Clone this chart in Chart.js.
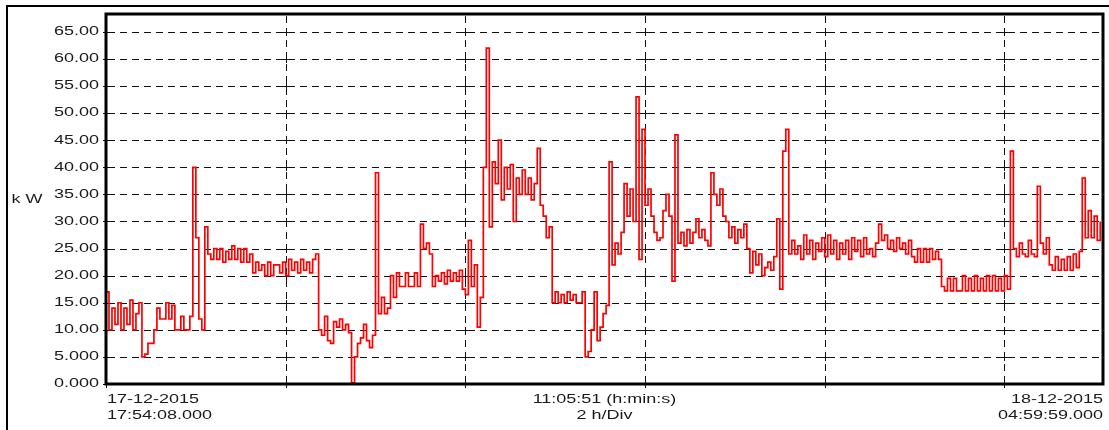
<!DOCTYPE html>
<html>
<head>
<meta charset="utf-8">
<script src="https://cdn.jsdelivr.net/npm/chart.js@4"></script>
<style>
  html, body { margin: 0; padding: 0; background: #fff; }
  #wrap { width: 1109px; height: 430px; }
</style>
</head>
<body>
<div id="wrap"><canvas id="chart" width="1109" height="430"></canvas></div>
<script>
// Data (one sample every 2 min)
const sampleSeconds = 120;
const spanSeconds = 39951; // 11:05:51
const xDivs = [0, 7200, 14400, 21600, 28800, 36000]; // 2 h/Div
const kw = [
  17, 10, 14, 11, 15, 10, 14, 11, 15.5, 10,
  13, 15, 5, 5.5, 7.5, 7.5, 10, 14, 12, 12,
  15, 12, 14.5, 10, 10, 12.5, 10, 10, 12.5, 40,
  27, 12, 10, 29, 24, 23, 25, 23, 25, 22.5,
  24.5, 23, 25.5, 23, 25, 22.5, 25, 22.5, 24, 20.5,
  22.5, 21, 22, 20, 22.5, 20, 22, 22, 20.5, 22.5,
  20, 23, 21, 22.5, 20.5, 23, 21, 22.5, 20.5, 23,
  24, 10, 9, 12.5, 8, 7.5, 11.5, 10.5, 12, 10,
  11, 9.5, 0.2, 5, 7.5, 8.5, 11, 8, 6.7, 9,
  39, 13, 16, 13, 14, 20, 16, 20.5, 18, 18,
  20.5, 18, 18, 20.5, 18, 29.5, 25, 26, 24, 18,
  20, 19, 20.5, 18.5, 21, 19, 20.5, 19, 21, 17.5,
  16.5, 26.5, 18, 22, 10.5, 16, 40, 62, 29, 41,
  37, 45, 34, 40, 36, 40.5, 30, 38, 35, 39.5,
  35, 38, 34, 37, 43.5, 33, 31, 27, 29, 15,
  17, 15, 16.5, 15, 17, 15.5, 16.5, 15, 15, 17,
  5, 6, 10, 17, 8, 10.5, 13, 14.5, 41, 22,
  26, 24, 28, 37, 31, 36, 30, 53, 23, 47,
  33, 36, 31, 28, 26.5, 27, 32, 35, 31, 19,
  46, 26, 28, 25.5, 28.5, 26, 28, 30.5, 27, 28.5,
  26.5, 25.5, 39, 35, 33, 36, 31, 30, 27, 29,
  26, 28.5, 27, 29.5, 25, 20.5, 24.5, 22, 24, 20,
  21.5, 22.5, 21, 23.5, 30.5, 17.5, 43, 47, 24, 26.5,
  24, 25.5, 23, 27.5, 24, 26.5, 23, 26, 24.5, 27,
  23.5, 27.5, 24, 26.5, 23, 26, 24, 26.5, 23, 27,
  24.5, 26.5, 23.5, 27, 24, 25, 23.5, 26, 29.5, 26.5,
  27.5, 25, 26.5, 24.5, 27, 25, 26, 24, 26.5, 23.5,
  22.5, 25, 22.5, 25, 22.5, 25, 23, 24.5, 23, 18,
  17.2, 19.5, 17.2, 19.5, 17.2, 17.2, 20, 17.2, 19.5, 17.2,
  20, 17.2, 19.5, 17.2, 20, 17.2, 20, 17.2, 19.5, 17.2,
  20, 17.5, 43, 25, 23.5, 26, 24, 23.5, 26.5, 24,
  23.5, 36.5, 26, 24, 27, 22, 21, 23.5, 21, 23,
  21, 23.5, 21, 24, 21.5, 24.5, 38, 27, 32, 27,
  31, 26.5, 30
];
const yTicks = [0, 5, 10, 15, 20, 25, 30, 35, 40, 45, 50, 55, 60, 65];
const unitLabel = "k W";
const startLabel = ["17-12-2015", "17:54:08.000"];
const midLabel = ["11:05:51 (h:min:s)", "2 h/Div"];
const endLabel = ["18-12-2015", "04:59:59.000"];

const FONT = '12px "Liberation Sans", Arial, sans-serif';
const STRETCH = 1.5;
const DASH = 7, GAP = 5;

function fmtKw(v) {
  return v.toPrecision(4);
}

// text in the original is horizontally stretched
function wideText(ctx, s, x, y, align) {
  ctx.save();
  ctx.translate(x, y);
  ctx.scale(STRETCH, 1);
  ctx.textAlign = align;
  ctx.fillText(s, 0, 0);
  ctx.restore();
}

// dashes as separate rects, setLineDash is not reliable here
function dashH(ctx, x1, x2, y) {
  for (let x = x1; x < x2; x += DASH + GAP) {
    ctx.fillRect(x, y, Math.min(DASH, x2 - x), 1);
  }
}
function dashV(ctx, x, y1, y2) {
  for (let y = y1; y < y2; y += DASH + GAP) {
    ctx.fillRect(x, y, 1, Math.min(DASH, y2 - y));
  }
}

const dashGrid = {
  id: "dashGrid",
  beforeDatasetsDraw(chart) {
    const { ctx, chartArea: a, scales } = chart;
    ctx.save();
    ctx.fillStyle = "#111";
    scales.y.ticks.forEach((t) => {
      dashH(ctx, a.left + 2, a.right, Math.round(scales.y.getPixelForValue(t.value)));
    });
    xDivs.forEach((v) => {
      const px = Math.round(scales.x.getPixelForValue(v));
      dashV(ctx, px, a.top + 2, a.bottom);
      // small crosses where the dashed lines meet
      yTicks.forEach((u) => {
        const py = Math.round(scales.y.getPixelForValue(u));
        ctx.fillRect(px - 3, py, 7, 1);
        ctx.fillRect(px, py - 3, 1, 7);
      });
    });
    ctx.restore();
  },
};

const decor = {
  id: "decor",
  afterDraw(chart) {
    const { ctx, chartArea: a, scales } = chart;
    ctx.save();
    // outer frame
    ctx.strokeStyle = "#000";
    ctx.lineWidth = 2;
    ctx.strokeRect(7, 6, 1130, 450);
    // plot frame
    ctx.lineWidth = 3;
    ctx.strokeRect(a.left, a.top, a.right - a.left, a.bottom - a.top);

    ctx.fillStyle = "#1a1a1a";
    ctx.font = FONT;
    ctx.textBaseline = "middle";
    scales.y.ticks.forEach((t) => {
      wideText(ctx, fmtKw(t.value), a.left - 7, scales.y.getPixelForValue(t.value), "right");
    });
    wideText(ctx, unitLabel, 27, 200, "center");

    const mid = (a.left + a.right) / 2;
    wideText(ctx, startLabel[0], a.left + 1, 400, "left");
    wideText(ctx, startLabel[1], a.left + 1, 416, "left");
    wideText(ctx, midLabel[0], mid, 400, "center");
    wideText(ctx, midLabel[1], mid, 416, "center");
    wideText(ctx, endLabel[0], a.right, 400, "right");
    wideText(ctx, endLabel[1], a.right, 416, "right");
    ctx.restore();
  },
};

const points = kw.map((v, i) => ({ x: i * sampleSeconds, y: v }));

new Chart(document.getElementById("chart"), {
  type: "line",
  data: {
    datasets: [
      {
        data: points,
        borderColor: "#ff0000",
        borderWidth: 1.7,
        pointRadius: 0,
        stepped: true,
        tension: 0,
      },
    ],
  },
  options: {
    responsive: false,
    animation: false,
    layout: { padding: { left: 6, top: 14, right: 6, bottom: 46 } },
    plugins: { legend: { display: false }, tooltip: { enabled: false } },
    scales: {
      x: {
        type: "linear",
        min: 0,
        max: spanSeconds,
        ticks: { display: false },
        afterBuildTicks: (axis) => {
          axis.ticks = xDivs.map((v) => ({ value: v }));
        },
        afterFit: (axis) => { axis.height = 0; },
        grid: { display: false },
        border: { display: false },
      },
      y: {
        min: 0,
        max: 68.3,
        ticks: { display: false },
        afterBuildTicks: (axis) => {
          axis.ticks = yTicks.map((v) => ({ value: v }));
        },
        afterFit: (axis) => { axis.width = 100; },
        grid: { display: false },
        border: { display: false },
      },
    },
  },
  plugins: [dashGrid, decor],
});
</script>
</body>
</html>
